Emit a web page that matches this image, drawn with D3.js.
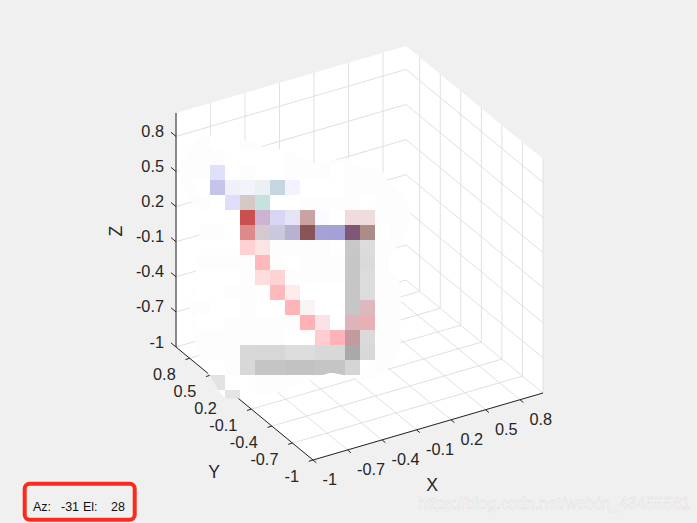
<!DOCTYPE html>
<html><head><meta charset="utf-8">
<script src="https://cdn.jsdelivr.net/npm/d3@7/dist/d3.min.js"></script>
<style>html,body{margin:0;padding:0;background:#f0f0f0;overflow:hidden}svg{display:block;font-family:"Liberation Sans",Arial,sans-serif}</style>
</head><body><svg id="c" width="697" height="523"></svg>
<script>
const xTicks=[-1,-0.7,-0.4,-0.1,0.2,0.5,0.8];
const yTicks=[-1,-0.7,-0.4,-0.1,0.2,0.5,0.8];
const zTicks=[-1,-0.7,-0.4,-0.1,0.2,0.5,0.8];
const columns=d3.range(16);
const rows=d3.range(18);
const W="#ffffff",_=null;
// picture cells, one array per row; null = background haze only
const heatRows=[
/*0*/[_,_,W,W,_,_,_,_,_,_,_,_,_,_,_,_],
/*1*/[_,_,_,W,W,W,W,_,_,_,_,_,_,_,_,_],
/*2*/[_,_,"#e0e0fb",W,_,W,W,_,_,_,W,_,_,_,_,_],
/*3*/[_,W,"#c5c5ec","#f0f0fb","#f3f3fb","#ecf0f3","#c4d7e0","#f3f3ff",W,W,W,_,_,_,_,_],
/*4*/[_,_,W,"#dedefc","#d5c9c7","#c4e3dc",W,W,_,_,_,_,W,_,_,_],
/*5*/[_,W,W,W,"#c8504e","#cbb3d1","#d8d6f5","#e6e3f4","#c9a2a2","#fbfaff",W,"#f0dcdc","#efdcdd",_,_,_],
/*6*/[_,_,_,W,"#dd8a8a","#d5c9d0","#c8c9df","#b8b2d2","#895358","#a5a3d6","#a3a1d6","#7f5878","#ab8c89",W,_,_],
/*7*/[_,W,W,W,"#fed1d3","#fde4e4",_,_,_,_,W,"#c8c8c8","#dcdcdc",_,_,_],
/*8*/[_,_,_,_,_,"#ffb8bb",_,W,_,_,_,"#c6c6c6","#dadada",_,_,_],
/*9*/[_,W,W,W,_,"#fedddf","#fed3d5",_,_,_,_,"#c6c6c6","#dcdcdc",_,_,_],
/*10*/[_,W,W,_,_,W,"#ffb9bc","#feeced",W,W,W,"#c6c6c6","#dcdcdc",_,_,_],
/*11*/[_,_,W,W,_,W,W,"#ffb4b7","#f9f3f3",W,W,"#c6c6c6","#dcb9bc",_,_,_],
/*12*/[_,W,W,_,_,_,_,_,"#ffb2b6","#fae3e4",W,"#dcb4b9","#e8b0b5",_,_,_],
/*13*/[_,_,_,_,_,_,_,W,W,"#ffccd0","#ffb3b8","#c49a9e","#dadada",_,_,_],
/*14*/[_,_,_,_,"#d8d8d8","#d7d7d7","#d7d7d7","#dddddd","#dddddd","#d8d8d8","#d8d8d8","#a9a9a9","#d8d8d8",_,_,_],
/*15*/[_,W,W,_,"#d8d8d8","#c5c5c5","#c5c5c5","#c2c2c2","#c2c2c2","#c5c5c5","#c5c5c5","#d5d5d5",W,_,_,_],
/*16*/[_,_,"#e3e3e3",W,W,_,_,_,_,_,_,_,_,_,_,_],
/*17*/[_,_,_,"#e4e4e4",W,_,_,_,_,_,_,_,_,_,_,_]
];
// outline of the haze in cell units
const hazeCol=[1.07,2.67,4.33,5.67,7.67,8.87,11.2,11.73,13.53,13.8,14.67,15.33,15.33,14.67,14,14,14.67,14.67,13.8,12.2,10,7.13,4.67,3,2,1.33,1,0.67,1,1.2,1.47,0.67,0,0,0.67];
const hazeRow=[0.27,0,0.33,0.8,1.13,1.87,1.53,2,2.47,3,3.87,5,6,7.2,8.13,9,10,14,15.67,16.33,15.87,17,17.47,17.53,16.07,14.8,13.67,11.33,10,7.33,5.33,4.33,3,2,1];

const svg=d3.select("#c");
// oblique projection of the box, one scale per data axis
const ox=313,oy=460;
const xs=d3.scaleLinear([-1,1],[0,230]), xv=d3.scaleLinear([-1,1],[0,-67]);
const ys=d3.scaleLinear([-1,1],[0,-137]), yv=d3.scaleLinear([-1,1],[0,-113]);
const zv=d3.scaleLinear([-1,1],[0,-234]);
const P=(x,y,z)=>[ox+xs(x)+ys(y), oy+xv(x)+yv(y)+zv(z)];
const pathOf=(pts)=>d3.line()(pts);
const ink="#262626", grid="#e0e0e0";

// white walls + floor
[[[-1,1,-1],[1,1,-1],[1,1,1],[-1,1,1]],[[1,1,-1],[1,-1,-1],[1,-1,1],[1,1,1]],[[-1,-1,-1],[1,-1,-1],[1,1,-1],[-1,1,-1]]]
 .forEach(q=>svg.append("path").attr("d",pathOf(q.map(p=>P(...p)))+"Z").attr("fill","#fff"));

const g=svg.append("g").attr("fill","none").attr("stroke",grid).attr("stroke-width",1);
const seg=(a,b)=>g.append("path").attr("d",pathOf([P(...a),P(...b)]));
xTicks.forEach(x=>{seg([x,-1,-1],[x,1,-1]);seg([x,1,-1],[x,1,1]);});
yTicks.forEach(y=>{seg([-1,y,-1],[1,y,-1]);seg([1,y,-1],[1,y,1]);});
zTicks.forEach(z=>{seg([-1,1,z],[1,1,z]);seg([1,1,z],[1,-1,z]);});

// axes
const a=svg.append("g").attr("fill","none").attr("stroke",ink).attr("stroke-width",1);
const aseg=(p,q)=>a.append("path").attr("d",pathOf([p,q]));
aseg(P(-1,1,-1),P(-1,1,1));aseg(P(-1,1,-1),P(-1,-1,-1));aseg(P(-1,-1,-1),P(1,-1,-1));
const tx=[3.4,2.8],ty=[-4.3,1.3],tz=[-5,-4.1];
const lab=(p,s,anc,size)=>svg.append("text").attr("x",p[0]).attr("y",p[1]).attr("text-anchor",anc).attr("font-size",size||16.3).attr("fill",ink).text(s);
xTicks.forEach(x=>{const p=P(x,-1,-1);aseg(p,[p[0]+tx[0],p[1]+tx[1]]);lab([p[0]+9.5,p[1]+25],x,"start");});
yTicks.forEach(y=>{const p=P(-1,y,-1);aseg(p,[p[0]+ty[0],p[1]+ty[1]]);lab([p[0]-14,p[1]+22],y,"end");});
zTicks.forEach(z=>{const p=P(-1,1,z);aseg(p,[p[0]+tz[0],p[1]+tz[1]]);lab([p[0]-12,p[1]+0.5],z,"end");});
lab([432,491],"X","middle",17.6);
lab([214,478],"Y","middle",17.6);
svg.append("text").attr("transform","translate(122,231) rotate(-90)").attr("text-anchor","middle").attr("font-size",17.6).attr("fill",ink).text("Z");

// picture
const cx=d3.scaleLinear([0,columns.length],[180,420]);
const cy=d3.scaleLinear([0,rows.length],[135,405]);
const haze=d3.line().curve(d3.curveCardinalClosed.tension(0.4))(hazeCol.map((c,i)=>[cx(c),cy(hazeRow[i])]));
svg.append("clipPath").attr("id","hz").append("path").attr("d",haze);
svg.append("path").attr("d",haze).attr("fill","#fdfdfd");
const cells=svg.append("g").attr("clip-path","url(#hz)").attr("shape-rendering","crispEdges");
heatRows.forEach((row,r)=>row.forEach((col,c)=>{ if(col) cells.append("rect").attr("x",cx(c)).attr("y",cy(r)).attr("width",cx(c+1)-cx(c)).attr("height",cy(r+1)-cy(r)).attr("fill",col);}));

// annotation box
svg.append("rect").attr("x",24.7).attr("y",483.7).attr("width",110).attr("height",36).attr("rx",5).attr("fill","none").attr("stroke","#fb2a1c").attr("stroke-width",4);
const azText=["Az:","-31","El:","28"],azPos=[33,61,83,111];
azText.forEach((s,i)=>svg.append("text").attr("x",azPos[i]).attr("y",511).attr("font-size",12.5).attr("fill","#111").text(s));
// watermark
svg.append("text").attr("x",418).attr("y",509).attr("font-size",16).attr("fill","#f9f9f9").attr("stroke","#dadada").attr("stroke-width",0.4).text("https://blog.csdn.net/weixin_43455581");
</script></body></html>
